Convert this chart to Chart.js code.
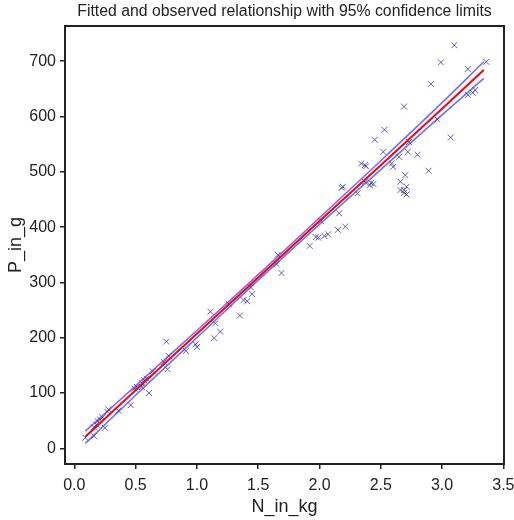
<!DOCTYPE html>
<html>
<head>
<meta charset="utf-8">
<script src="https://cdn.jsdelivr.net/npm/chart.js@4/dist/chart.umd.min.js"></script>
<style>
  html, body { margin: 0; padding: 0; background: #fff; }
  #wrap { width: 514px; height: 520px; }
</style>
</head>
<body>
<div id="wrap"><canvas id="c" width="514" height="520"></canvas></div>
<script>
const obsN = [0.09,0.16,0.16,0.18,0.19,0.21,0.23,0.25,0.27,0.28,0.36,0.46,0.49,0.51,0.55,0.55,0.57,0.59,0.61,0.64,
  0.73,0.75,0.76,0.77,0.91,0.99,1.00,1.11,1.14,1.15,1.19,1.26,1.35,1.38,1.41,1.44,1.45,1.65,1.66,1.69,
  1.92,1.97,1.99,2.01,2.04,2.07,2.15,2.16,2.18,2.19,2.21,2.31,2.34,2.37,2.37,2.38,2.41,2.42,2.44,2.45,
  2.52,2.53,2.59,2.60,2.65,2.66,2.66,2.69,2.69,2.69,2.70,2.71,2.71,2.72,2.73,2.80,2.89,2.91,2.96,2.99,
  3.07,3.10,3.21,3.21,3.25,3.27,3.36];
const obsP = [19,22,38,43,49,52,56,37,66,70,68,78,108,111,111,118,123,126,100,139,
  156,193,143,167,176,188,183,247,199,226,211,261,240,268,266,291,279,333,350,317,
  366,382,381,411,384,387,395,425,471,473,401,461,515,512,482,510,476,480,478,558,
  536,576,515,509,527,482,467,462,467,618,494,473,459,536,554,531,502,659,595,698,
  562,729,686,639,643,648,699];

// Fitted line and 95% confidence limits
const fitN   = [0.09, 0.5, 1.0, 1.5, 2.0, 2.5, 3.0, 3.34];
const fitP   = [21, 105, 207, 309, 411, 512, 614, 684];
const upperP = [31, 113, 213, 314, 417, 520, 625, 699];
const lowerP = [9, 96, 200, 304, 405, 504, 603, 669];

// Tick labels
const xTicks = [0.0, 0.5, 1.0, 1.5, 2.0, 2.5, 3.0, 3.5];
const yTicks = [0, 100, 200, 300, 400, 500, 600, 700];

const TITLE = 'Fitted and observed relationship with 95% confidence limits';

const pts = (xs, ys) => xs.map((x, i) => ({x: x, y: ys[i]}));

const FONT = "'Liberation Sans', Arial, sans-serif";
const INK = '#222';

const framePlugin = {
  id: 'frame',
  afterDatasetsDraw(chart) {
    const {ctx, chartArea: a} = chart;
    ctx.save();
    ctx.strokeStyle = INK;
    ctx.lineWidth = 2;
    ctx.strokeRect(a.left, a.top, a.right - a.left, a.bottom - a.top);
    // title centred over the plot area
    ctx.fillStyle = INK;
    ctx.font = '15.8px ' + FONT;
    ctx.textAlign = 'center';
    ctx.textBaseline = 'middle';
    ctx.fillText(TITLE, (a.left + a.right) / 2, 11.5);
    ctx.restore();
  }
};

new Chart(document.getElementById('c'), {
  type: 'scatter',
  data: {
    datasets: [
      {
        label: 'observed',
        data: pts(obsN, obsP),
        pointStyle: 'crossRot',
        pointRadius: 4.2,
        pointBorderWidth: 1,
        pointBorderColor: 'rgba(30,30,170,0.7)',
        pointBackgroundColor: 'rgba(30,30,170,0.7)',
        showLine: false,
        order: 3
      },
      {
        label: 'upper',
        data: pts(fitN, upperP),
        showLine: true,
        pointRadius: 0,
        borderColor: 'rgba(50,50,255,0.7)',
        borderWidth: 1.6,
        tension: 0.4,
        order: 2
      },
      {
        label: 'lower',
        data: pts(fitN, lowerP),
        showLine: true,
        pointRadius: 0,
        borderColor: 'rgba(50,50,255,0.7)',
        borderWidth: 1.6,
        tension: 0.4,
        order: 2
      },
      {
        label: 'fitted',
        data: pts(fitN, fitP),
        showLine: true,
        pointRadius: 0,
        borderColor: 'rgb(255,0,0)',
        borderWidth: 2,
        order: 1
      }
    ]
  },
  options: {
    responsive: false,
    animation: false,
    layout: { padding: { left: 0, right: 10, top: 26, bottom: 0 } },
    plugins: {
      legend: { display: false },
      tooltip: { enabled: false },
      title: { display: false }
    },
    scales: {
      x: {
        type: 'linear',
        min: -0.076,
        max: 3.505,
        afterFit(s) { s.height = 56; s.paddingLeft = 0; s.paddingRight = 0; },
        afterBuildTicks(s) { s.ticks = xTicks.map(v => ({value: v})); },
        border: { display: false },
        grid: { drawOnChartArea: false, drawTicks: true, tickLength: 5, color: INK, lineWidth: 1.5 },
        ticks: {
          color: INK, padding: 7,
          font: { family: FONT, size: 16 },
          callback: v => Number(v).toFixed(1)
        },
        title: {
          display: true, text: 'N_in_kg', color: INK,
          font: { family: FONT, size: 18 },
          padding: { top: 0, bottom: 2 }
        }
      },
      y: {
        type: 'linear',
        min: -28.4,
        max: 763.7,
        afterFit(s) { s.width = 65; s.paddingTop = 0; s.paddingBottom = 0; },
        afterBuildTicks(s) { s.ticks = yTicks.map(v => ({value: v})); },
        border: { display: false },
        grid: { drawOnChartArea: false, drawTicks: true, tickLength: 5, color: INK, lineWidth: 1.5 },
        ticks: {
          color: INK, padding: 4,
          font: { family: FONT, size: 16 },
          callback: v => String(v)
        },
        title: {
          display: true, text: 'P_in_g', color: INK,
          font: { family: FONT, size: 18 },
          padding: { top: 5, bottom: 0 }
        }
      }
    }
  },
  plugins: [framePlugin]
});
</script>
</body>
</html>
